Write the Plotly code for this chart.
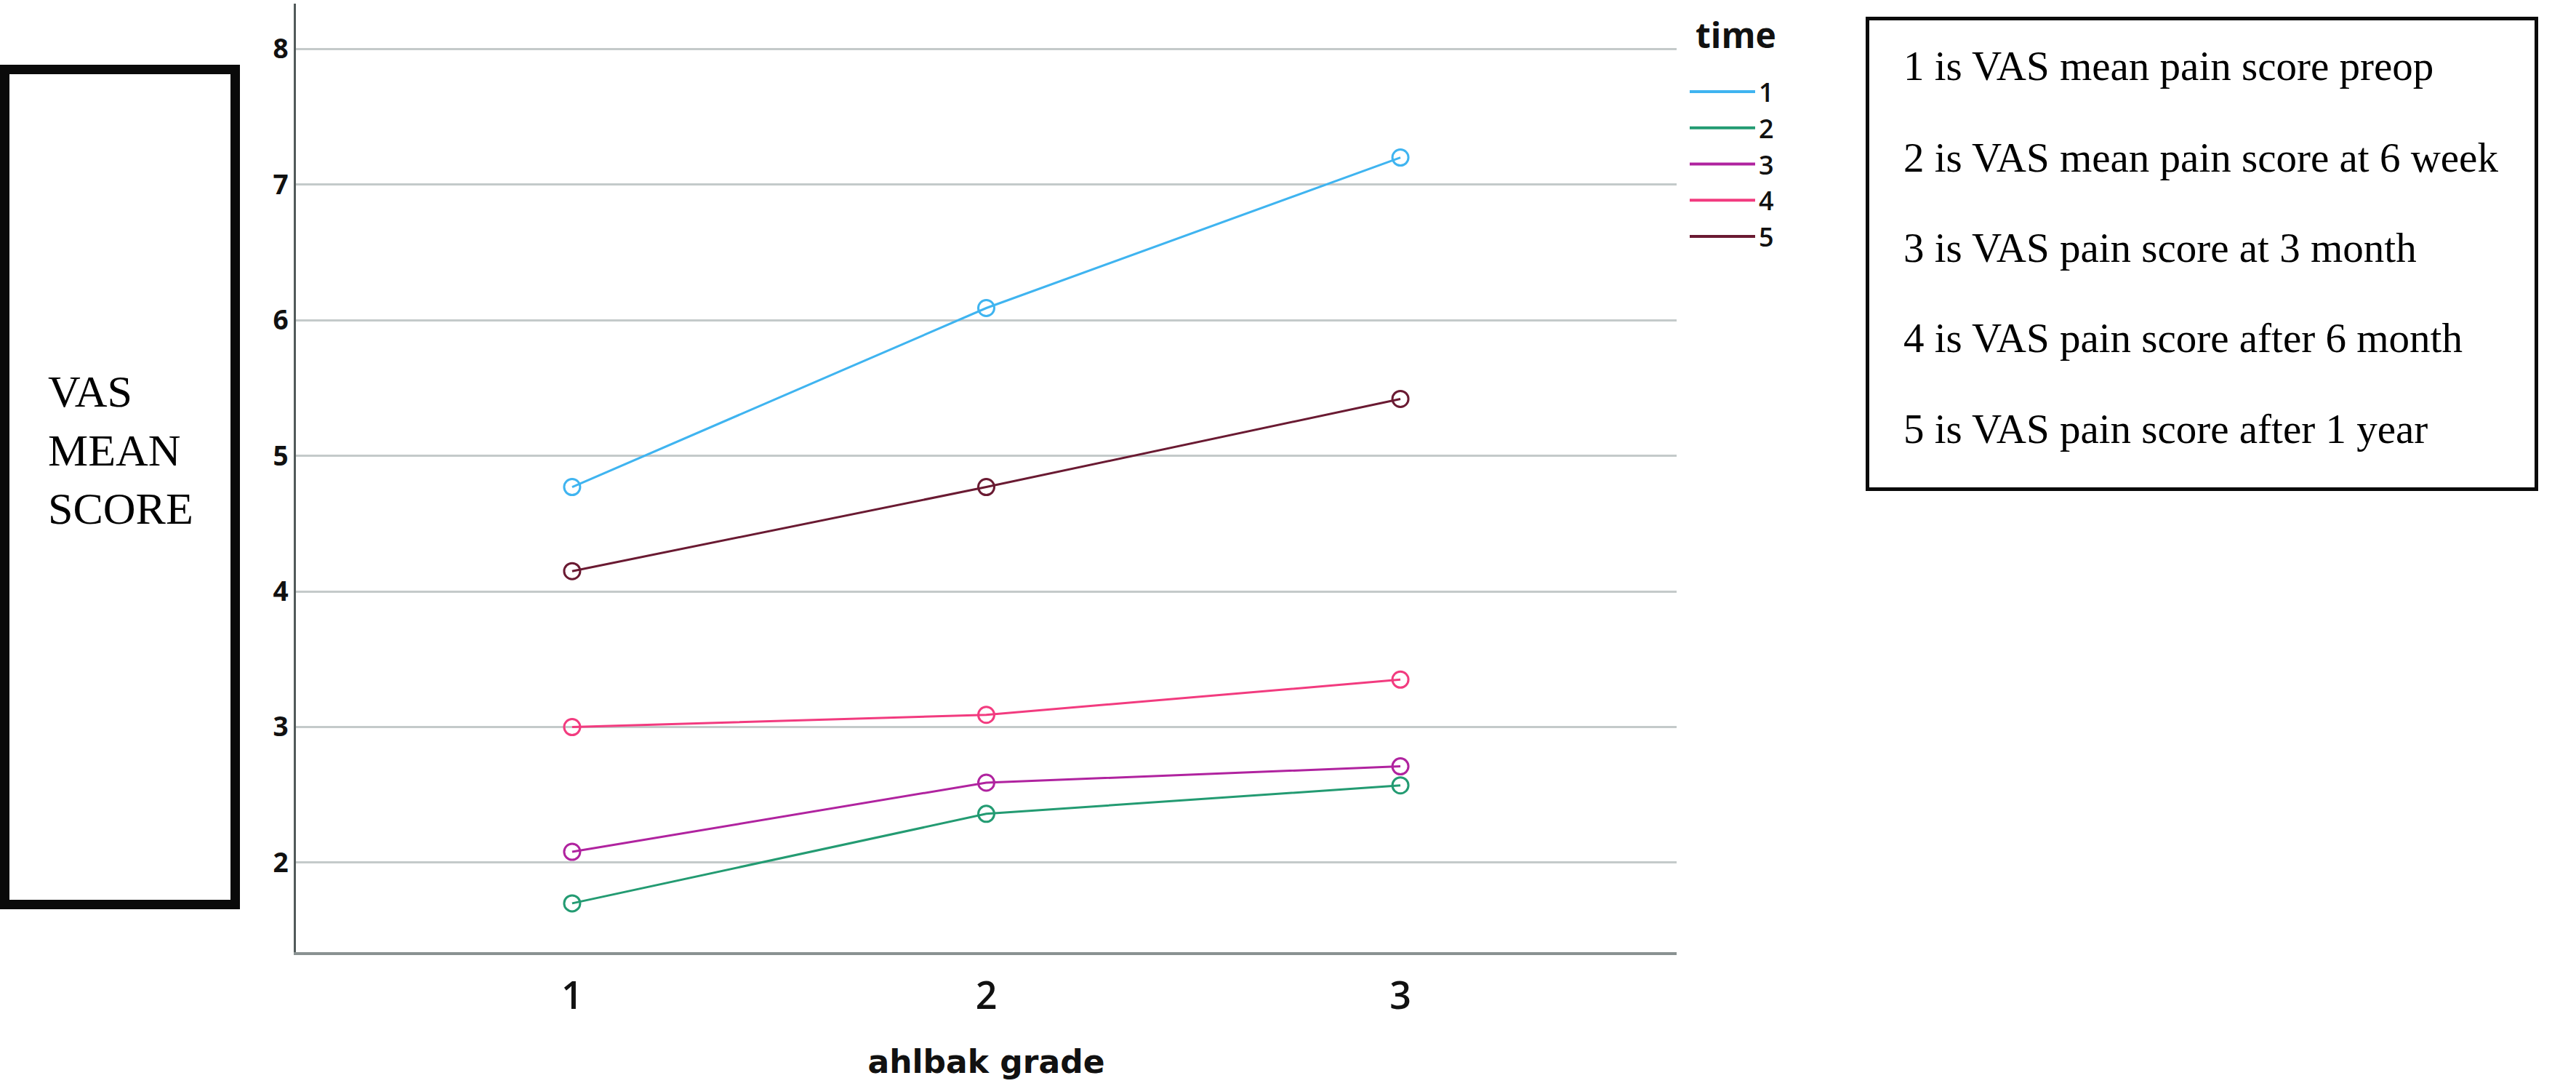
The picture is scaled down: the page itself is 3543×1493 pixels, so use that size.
import plotly.graph_objects as go

# ---------------- data ----------------
grades = [1, 2, 3]
grade_labels = ["1", "2", "3"]
time_names = ["1", "2", "3", "4", "5"]
time_1 = [4.77, 6.09, 7.20]
time_2 = [1.70, 2.36, 2.57]
time_3 = [2.08, 2.59, 2.71]
time_4 = [3.00, 3.09, 3.35]
time_5 = [4.15, 4.77, 5.42]
y_ticks = [2, 3, 4, 5, 6, 7, 8]
box_lines = [
    "1 is VAS mean pain score preop",
    "2 is VAS mean pain score at 6 week",
    "3 is VAS pain score at 3 month",
    "4 is VAS pain score after 6 month",
    "5 is VAS pain score after 1 year",
]
series = [time_1, time_2, time_3, time_4, time_5]
colors = ["#3FB4F0", "#239B72", "#B0239F", "#F23B7F", "#6A1A32"]

# ---------------- layout geometry (pixels) ----------------
W, H = 3543, 1493
PL, PR, PT, PB = 407, 2306, 5, 1309


def fx(px):
    return (px - PL) / (PR - PL)


def fy(py):
    return (PB - py) / (PB - PT)


fig = go.Figure()
for name, vals, col in zip(time_names, series, colors):
    fig.add_trace(go.Scatter(
        x=grades, y=vals, mode="lines+markers", name=name, showlegend=False,
        line=dict(color=col, width=3),
        marker=dict(symbol="circle-open", size=22, color=col, line=dict(width=3, color=col)),
    ))
for name, col in zip(time_names, colors):
    fig.add_trace(go.Scatter(
        x=[None], y=[None], mode="lines", name=name, showlegend=True,
        line=dict(color=col, width=4),
    ))

shapes = [
    dict(type="rect", xref="paper", yref="paper",
         x0=fx(6.5), x1=fx(323.5), y0=fy(1243.5), y1=fy(95.5),
         line=dict(color="#0A0A0A", width=13), fillcolor="rgba(0,0,0,0)", layer="above"),
    dict(type="rect", xref="paper", yref="paper",
         x0=fx(2568.5), x1=fx(3488.5), y0=fy(672.5), y1=fy(25.5),
         line=dict(color="#0A0A0A", width=5), fillcolor="rgba(0,0,0,0)", layer="above"),
]

annotations = [
    dict(text="VAS<br>MEAN<br>SCORE", xref="paper", yref="paper",
         x=fx(64), y=fy(618), xanchor="left", yanchor="middle", align="left",
         showarrow=False, font=dict(family="Liberation Serif", size=62, color="#000000")),
    dict(text="<b>time</b>", xref="paper", yref="paper",
         x=fx(2330), y=fy(47), xanchor="left", yanchor="middle", showarrow=False,
         font=dict(family="Open Sans", size=48, color="#111111")),
]
line_y = [90, 216, 341, 464, 589]
for txt, yy in zip(box_lines, line_y):
    annotations.append(dict(
        text=txt, xref="paper", yref="paper", x=fx(2616), y=fy(yy),
        xanchor="left", yanchor="middle", showarrow=False,
        font=dict(family="Liberation Serif", size=57, color="#000000")))

fig.update_layout(
    width=W, height=H,
    margin=dict(l=PL, r=W - PR, t=PT, b=H - PB, autoexpand=False),
    paper_bgcolor="white", plot_bgcolor="white",
    shapes=shapes, annotations=annotations,
    legend=dict(
        x=fx(2319), y=fy(96), xanchor="left", yanchor="top",
        font=dict(family="Open Sans", size=36, color="#111111", weight=600),
        itemwidth=90, tracegroupgap=0, bgcolor="rgba(0,0,0,0)",
    ),
    xaxis=dict(
        range=[0.333, 3.667], tickvals=grades, ticktext=grade_labels,
        showgrid=False, zeroline=False, showline=True, linecolor="#8A9292", linewidth=4,
        ticks="", ticklabelstandoff=12,
        tickfont=dict(family="Open Sans", size=52, color="#111111", weight=600),
        title=dict(text="<b>ahlbak grade</b>", standoff=44,
                   font=dict(family="DejaVu Sans", size=44, color="#111111")),
    ),
    yaxis=dict(
        range=[1.34, 8.335], tickvals=y_ticks, ticktext=[str(v) for v in y_ticks],
        showgrid=True, gridcolor="#C4CACA", gridwidth=3, zeroline=False,
        showline=True, linecolor="#525A5A", linewidth=3,
        ticks="", ticklabelstandoff=0,
        tickfont=dict(family="Open Sans", size=37, color="#111111", weight="bold"),
    ),
    showlegend=True,
)

fig.write_html(
    "out.html",
    config={"displayModeBar": False},
    post_script="document.body.style.margin='0px';document.body.style.overflow='hidden';",
)
